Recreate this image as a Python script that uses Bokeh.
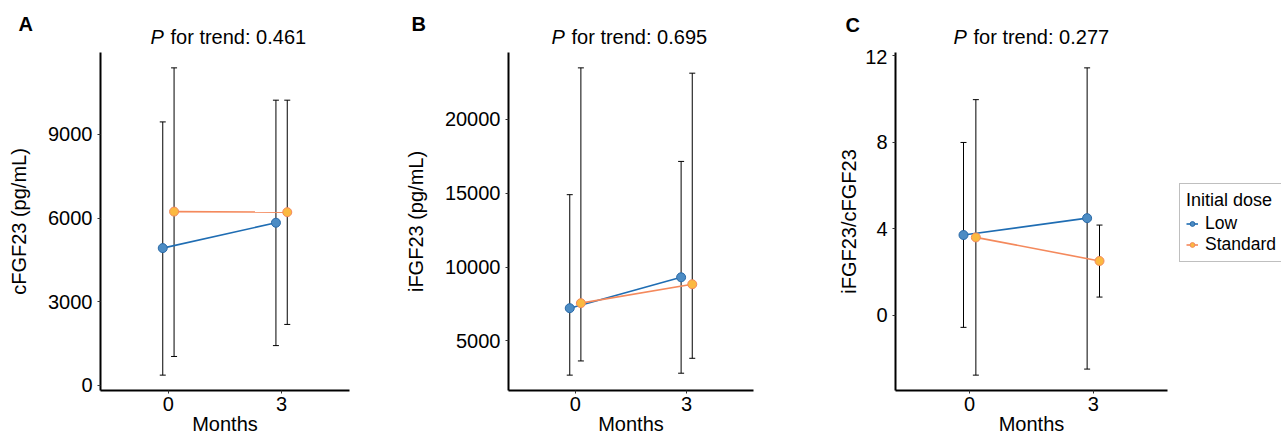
from bokeh.plotting import figure
from bokeh.layouts import row, column
from bokeh.models import (Legend, LegendItem, Whisker, TeeHead,
                          ColumnDataSource, Range1d, FixedTicker)
from bokeh.core.properties import value
from bokeh.embed import file_html
from bokeh.resources import INLINE

# ---------------- data ----------------
months = [0, 3]
groups = ["Low", "Standard"]

# Panel A: cFGF23 (pg/mL)
a_low_mean = [4920, 5830]
a_low_lo = [360, 1420]
a_low_hi = [9450, 10230]
a_std_mean = [6230, 6210]
a_std_lo = [1030, 2180]
a_std_hi = [11390, 10230]
a_ticks = [0, 3000, 6000, 9000]

# Panel B: iFGF23 (pg/mL)
b_low_mean = [7220, 9310]
b_low_lo = [2690, 2820]
b_low_hi = [14900, 17150]
b_std_mean = [7560, 8840]
b_std_lo = [3650, 3830]
b_std_hi = [23480, 23120]
b_ticks = [5000, 10000, 15000, 20000]

# Panel C: iFGF23/cFGF23
c_low_mean = [3.70, 4.48]
c_low_lo = [-0.57, -2.50]
c_low_hi = [7.98, 11.43]
c_std_mean = [3.59, 2.50]
c_std_lo = [-2.78, 0.83]
c_std_hi = [9.96, 4.16]
c_ticks = [0, 4, 8, 12]

p_values = ["0.461", "0.695", "0.277"]
panel_letters = ["A", "B", "C"]
y_titles = ["cFGF23 (pg/mL)", "iFGF23 (pg/mL)", "iFGF23/cFGF23"]
x_title = "Months"
legend_title = "Initial dose"

# ---------------- style ----------------
FONT = "Liberation Sans"
LOW_LINE = "#1f6db3"
LOW_FILL = "#4c8cc4"
LOW_EDGE = "#2a6aa8"
STD_LINE = "#f4895c"
STD_FILL = "#fbb941"
STD_EDGE = "#f4895c"
DODGE = 0.15
TOTAL_W = 1281
HEAD_H = 49
MAIN_H = 437 - HEAD_H
TOP = 3  # frame top at 52 px in the page

# ---------------- header strip (panel letters and titles) ----------------
head = figure(width=TOTAL_W, height=HEAD_H, x_range=Range1d(0, TOTAL_W),
              y_range=Range1d(HEAD_H, 0), output_backend="svg",
              toolbar_location=None, min_border=0, title=None,
              x_axis_location=None, y_axis_location=None)
head.outline_line_color = None
head.grid.visible = False

letter_x = [18, 411, 845]
letter_y = [23.5, 23.0, 24.0]
p_x = [150, 551, 953]
for_x = [170, 571, 973]
title_y = [36.8, 36.8, 36.8]

head.text(x=letter_x, y=letter_y, text=panel_letters, text_font=value(FONT),
          text_font_size="20px", text_font_style="bold", text_color="black",
          text_baseline="middle")
head.text(x=p_x, y=title_y, text=["P"] * 3, text_font=value(FONT),
          text_font_size="20px", text_font_style="italic", text_color="black",
          text_baseline="middle")
head.text(x=for_x, y=title_y, text=["for trend: " + v for v in p_values],
          text_font=value(FONT), text_font_size="20px", text_color="black",
          text_baseline="middle")


def make_panel(low_mean, low_lo, low_hi, std_mean, std_lo, std_hi, ticks,
               ytitle, width, left, right, label_standoff):
    lo = min(low_lo + std_lo)
    hi = max(low_hi + std_hi)
    pad = 0.05 * (hi - lo)
    p = figure(width=width, height=MAIN_H, x_range=Range1d(-1.8, 4.8),
               y_range=Range1d(lo - pad, hi + pad), title=None,
               output_backend="svg", toolbar_location=None,
               min_border_left=left, min_border_right=right,
               min_border_top=TOP, min_border_bottom=40)
    p.outline_line_color = None
    p.xgrid.visible = False
    p.ygrid.visible = False
    p.background_fill_color = "white"
    p.border_fill_color = "white"

    for ax in (p.xaxis[0], p.yaxis[0]):
        ax.axis_line_width = 2
        ax.axis_line_color = "black"
        ax.major_tick_line_color = "#333333"
        ax.major_tick_line_width = 1
        ax.major_tick_in = 0
        ax.major_tick_out = 3
        ax.minor_tick_line_color = None
        ax.major_label_text_font = FONT
        ax.major_label_text_font_size = "20px"
        ax.major_label_text_color = "black"
        ax.axis_label_text_font = FONT
        ax.axis_label_text_font_size = "20px"
        ax.axis_label_text_font_style = "normal"
        ax.axis_label_text_color = "black"
    p.xaxis.ticker = FixedTicker(ticks=months)
    p.xaxis.major_label_standoff = 3
    p.xaxis.axis_label = x_title
    p.xaxis.axis_label_standoff = -1
    p.yaxis.ticker = FixedTicker(ticks=ticks)
    p.yaxis.major_label_standoff = 5
    p.yaxis.axis_label = ytitle
    p.yaxis.axis_label_standoff = label_standoff

    x_low = [m - DODGE for m in months]
    x_std = [m + DODGE for m in months]

    for xs, l, h in ((x_low, low_lo, low_hi), (x_std, std_lo, std_hi)):
        src = ColumnDataSource(dict(base=xs, lower=l, upper=h))
        w = Whisker(base="base", lower="lower", upper="upper", source=src,
                    dimension="height", line_color="black", line_width=1,
                    upper_head=TeeHead(size=6, line_color="black", line_width=1),
                    lower_head=TeeHead(size=6, line_color="black", line_width=1))
        p.add_layout(w)

    p.line(x_low, low_mean, line_color=LOW_LINE, line_width=1.6)
    p.line(x_std, std_mean, line_color=STD_LINE, line_width=1.6)
    p.scatter(x_low, low_mean, size=9, fill_color=LOW_FILL,
              line_color=LOW_EDGE, line_width=1)
    p.scatter(x_std, std_mean, size=9, fill_color=STD_FILL,
              line_color=STD_EDGE, line_width=1)
    return p


pa = make_panel(a_low_mean, a_low_lo, a_low_hi, a_std_mean, a_std_lo, a_std_hi,
                a_ticks, y_titles[0], width=400, left=100, right=51,
                label_standoff=15)
pb = make_panel(b_low_mean, b_low_lo, b_low_hi, b_std_mean, b_std_lo, b_std_hi,
                b_ticks, y_titles[1], width=400, left=108, right=47,
                label_standoff=15)
pc = make_panel(c_low_mean, c_low_lo, c_low_hi, c_std_mean, c_std_lo, c_std_hi,
                c_ticks, y_titles[2], width=378, left=95, right=11,
                label_standoff=2)

# ---------------- legend area (keys for panel C's series; data lie off view) --
leg_w = TOTAL_W - 400 - 400 - 378
pl = figure(width=leg_w, height=MAIN_H, x_range=Range1d(0, 1),
            y_range=Range1d(0, 1), output_backend="svg", toolbar_location=None,
            min_border=0, title=None, x_axis_location=None,
            y_axis_location=None)
pl.outline_line_color = None
pl.grid.visible = False
kx_low = [m - DODGE for m in months]
kx_std = [m + DODGE for m in months]
k1 = pl.line(kx_low, c_low_mean, line_color=LOW_LINE, line_width=1.6)
k1s = pl.scatter(kx_low, c_low_mean, size=9, fill_color=LOW_FILL,
                 line_color=LOW_EDGE, line_width=1)
k2 = pl.line(kx_std, c_std_mean, line_color=STD_LINE, line_width=1.6)
k2s = pl.scatter(kx_std, c_std_mean, size=9, fill_color=STD_FILL,
                 line_color=STD_EDGE, line_width=1)
lg = Legend(items=[LegendItem(label=groups[0], renderers=[k1, k1s]),
                   LegendItem(label=groups[1], renderers=[k2, k2s])],
            title=legend_title, location=(1, 128))
lg.title_text_font = FONT
lg.title_text_font_size = "18px"
lg.title_text_font_style = "normal"
lg.title_text_color = "black"
lg.title_standoff = 2
lg.label_text_font = FONT
lg.label_text_font_size = "17.5px"
lg.label_text_color = "black"
lg.label_height = 21
lg.glyph_height = 21
lg.glyph_width = 12
lg.label_standoff = 7
lg.spacing = 0
lg.padding = 6
lg.margin = 0
lg.border_line_color = "#808080"
lg.border_line_width = 1.2
lg.background_fill_color = "white"
lg.background_fill_alpha = 1
pl.add_layout(lg, "center")

layout = column(head, row(pa, pb, pc, pl, spacing=0), spacing=0)
open("out.html", "w").write(file_html(layout, INLINE))
